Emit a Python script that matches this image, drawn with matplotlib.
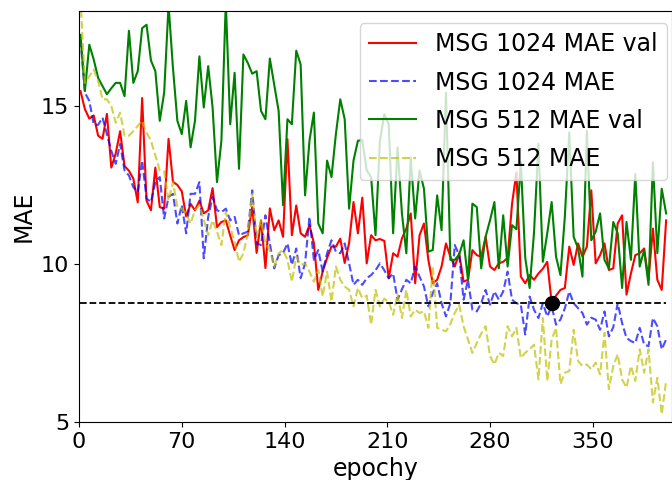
import numpy as np
import matplotlib
matplotlib.use("Agg")
import matplotlib.pyplot as plt

# ==============================================================================
# DATA (one value every 3 epochs)
# ==============================================================================
epochs = np.arange(1, 401, 3)

mae_val_1024 = [
    15.47, 14.9, 14.6, 14.7, 14.06, 13.96, 14.75, 13.05, 13.5, 14.2,
    13.1, 12.95, 12.7, 11.95, 15.25, 12.0, 11.7, 13.05, 11.8, 11.75,
    13.96, 12.6, 12.5, 12.3, 11.5, 11.9, 11.7, 12.0, 11.6, 11.7,
    12.4, 11.17, 11.33, 11.38, 10.9, 10.44, 10.75, 10.85, 10.91, 11.8,
    10.35, 11.38, 9.87, 11.76, 11.07, 11.38, 10.86, 13.95, 10.91, 11.85,
    10.97, 10.86, 11.23, 10.66, 9.18, 9.76, 10.19, 10.55, 10.55, 10.8,
    10.03, 10.66, 11.96, 10.97, 12.1, 10.02, 10.91, 10.75, 10.79, 10.73,
    9.55, 10.34, 10.23, 10.81, 11.12, 11.6, 9.39, 10.91, 11.28, 10.13,
    9.39, 9.5, 9.92, 10.65, 10.23, 9.92, 10.34, 9.44, 9.5, 10.44,
    10.28, 10.23, 10.86, 9.92, 9.81, 10.02, 10.07, 10.19, 11.9, 12.9,
    9.6, 9.39, 9.65, 9.5, 9.7, 9.85, 10.07, 8.78, 9.0, 9.18,
    9.24, 10.55, 9.97, 10.65, 10.23, 10.55, 12.33, 10.02, 10.28, 10.65,
    9.81, 9.86, 11.28, 11.54, 9.03, 9.7, 10.28, 10.34, 10.49, 9.5,
    11.12, 9.5, 9.18, 11.38,
]

mae_1024 = [
    17.1, 15.42, 15.16, 14.42, 14.4, 14.63, 14.1, 13.58, 13.17, 13.8,
    12.96, 12.8, 12.43, 12.27, 13.27, 12.07, 11.96, 12.59, 12.75, 11.44,
    12.12, 12.22, 11.28, 11.86, 10.97, 12.22, 12.22, 12.59, 10.18, 11.49,
    12.12, 11.7, 11.64, 11.75, 11.38, 11.49, 10.91, 10.97, 11.02, 12.33,
    10.65, 10.6, 11.54, 10.65, 9.86, 10.28, 10.34, 10.65, 9.97, 10.49,
    9.55, 10.02, 11.49, 10.13, 10.44, 9.76, 10.34, 10.75, 10.39, 10.34,
    10.65, 10.02, 9.34, 9.5, 9.34, 9.55, 9.65, 9.8, 10.02, 9.8,
    9.55, 9.7, 8.87, 9.2, 9.5, 9.39, 9.92, 9.6, 9.29, 8.66,
    9.08, 9.39, 8.76, 8.34, 8.76, 10.6, 10.28, 8.87, 9.5, 8.55,
    8.5, 8.76, 9.18, 8.71, 9.13, 8.87, 9.13, 9.76, 8.87, 8.76,
    8.71, 7.77, 8.97, 8.55, 8.29, 8.76, 8.34, 8.66, 8.08, 8.24,
    8.6, 9.13, 8.76, 8.6, 8.45, 8.08, 8.3, 8.24, 7.92, 8.5,
    7.71, 8.0, 8.76, 8.13, 7.66, 7.56, 7.5, 7.98, 7.45, 7.4,
    8.29, 8.03, 7.3, 7.61,
]

mae_val_512 = [
    17.25, 15.47, 16.94, 16.47, 15.89, 15.63, 15.37, 15.56, 15.73, 15.73,
    15.31, 17.38, 15.73, 16.1, 17.46, 17.57, 16.44, 16.1, 14.53, 15.42,
    18.2, 16.2, 14.53, 14.11, 15.16, 13.69, 14.53, 16.57, 14.95, 16.26,
    14.95, 12.59, 13.9, 18.3, 14.42, 16.05, 13.01, 16.63, 16.36, 16.02,
    16.1, 14.84, 14.58, 16.5, 15.68, 14.84, 11.86, 14.58, 14.42, 16.75,
    16.31, 12.17, 13.9, 14.79, 11.28, 10.97, 13.27, 12.75, 14.11, 15.21,
    14.58, 11.75, 13.27, 13.9, 13.92, 12.96, 12.75, 10.91, 13.9, 14.74,
    14.42, 10.97, 13.69, 11.6, 10.34, 13.37, 11.44, 12.96, 12.38, 10.39,
    10.44, 12.17, 11.07, 15.42, 10.13, 10.13, 10.3, 10.75, 9.5, 11.91,
    11.8, 9.86, 10.86, 11.38, 11.96, 9.86, 11.54, 9.92, 11.23, 11.1,
    13.22, 10.2, 9.24, 11.0, 13.8, 10.07, 10.97, 11.96, 10.23, 9.65,
    11.5, 14.16, 10.86, 10.5, 9.6, 14.21, 10.75, 11.02, 11.6, 10.13,
    9.86, 11.33, 10.97, 9.24, 11.33, 10.13, 12.85, 9.92, 10.44, 9.34,
    13.22, 10.34, 12.38, 11.6,
]

mae_512 = [
    18.4, 15.73, 15.94, 16.15, 15.79, 15.21, 15.21, 15.0, 14.47, 14.79,
    14.06, 14.06, 14.2, 14.37, 14.53, 14.16, 13.9, 13.43, 12.96, 12.93,
    12.01, 12.59, 11.8, 11.75, 11.6, 11.28, 11.7, 11.86, 11.4, 10.91,
    11.38, 11.02, 10.6, 11.64, 11.17, 10.7, 10.07, 10.34, 10.97, 12.22,
    10.86, 11.38, 10.65, 10.44, 9.92, 10.34, 10.44, 10.13, 9.44, 10.23,
    9.97, 10.02, 9.76, 9.44, 9.81, 8.97, 9.76, 8.81, 9.92, 9.5,
    9.29, 9.18, 8.66, 9.24, 8.92, 9.0, 8.08, 9.18, 8.66, 8.9,
    8.81, 8.39, 9.03, 8.29, 9.18, 8.34, 8.55, 8.45, 8.5, 7.98,
    9.92, 7.98, 7.92, 7.87, 8.1, 8.45, 8.71, 8.03, 7.61, 7.19,
    7.5, 7.8, 8.03, 7.09, 6.82, 7.19, 7.09, 8.03, 7.71, 7.98,
    7.03, 7.19, 7.3, 7.45, 6.35, 8.29, 6.3, 7.61, 7.98, 6.2,
    6.56, 6.61, 7.92, 6.93, 6.77, 6.82, 6.67, 6.88, 6.51, 7.82,
    6.04, 6.77, 7.14, 6.35, 6.09, 6.77, 6.3, 7.3, 6.56, 7.3,
    5.62, 6.4, 5.25, 6.3,
]

# ==============================================================================
# PLOT
# ==============================================================================
fig = plt.figure(figsize=(6.72, 4.8), dpi=100)
ax = fig.add_axes([0.1176, 0.1208, 0.8824, 0.856])

ax.plot(epochs[:len(mae_val_1024)], mae_val_1024, color='r', linewidth=1.5, label='MSG 1024 MAE val')
ax.plot(epochs[:len(mae_1024)], mae_1024, color='b', linestyle='--', alpha=0.7, linewidth=1.5, label='MSG 1024 MAE')
ax.plot(epochs[:len(mae_val_512)], mae_val_512, color='g', linewidth=1.5, label='MSG 512 MAE val')
ax.plot(epochs[:len(mae_512)], mae_512, color='y', linestyle='--', alpha=0.7, linewidth=1.5, label='MSG 512 MAE')

# best validation point of the 1024 model
best_i = int(np.argmin(mae_val_1024))
best_val = mae_val_1024[best_i]
ax.plot(epochs[:len(mae_val_1024)], [best_val] * len(mae_val_1024), 'k--', linewidth=1.3)
ax.plot(epochs[best_i], best_val, 'o', color='black', markersize=10)

ax.set_xlim(0, 404)
ax.set_ylim(5, 18)
ax.set_xticks([0, 70, 140, 210, 280, 350])
ax.set_yticks([5, 10, 15])
ax.tick_params(labelsize=16)
ax.set_xlabel('epochy', fontsize=17)
ax.set_ylabel('MAE', fontsize=17)
ax.legend(loc='upper right', bbox_to_anchor=(1.012, 1.0), fontsize=17, labelspacing=0.6)

plt.savefig('out.png', dpi=100)
